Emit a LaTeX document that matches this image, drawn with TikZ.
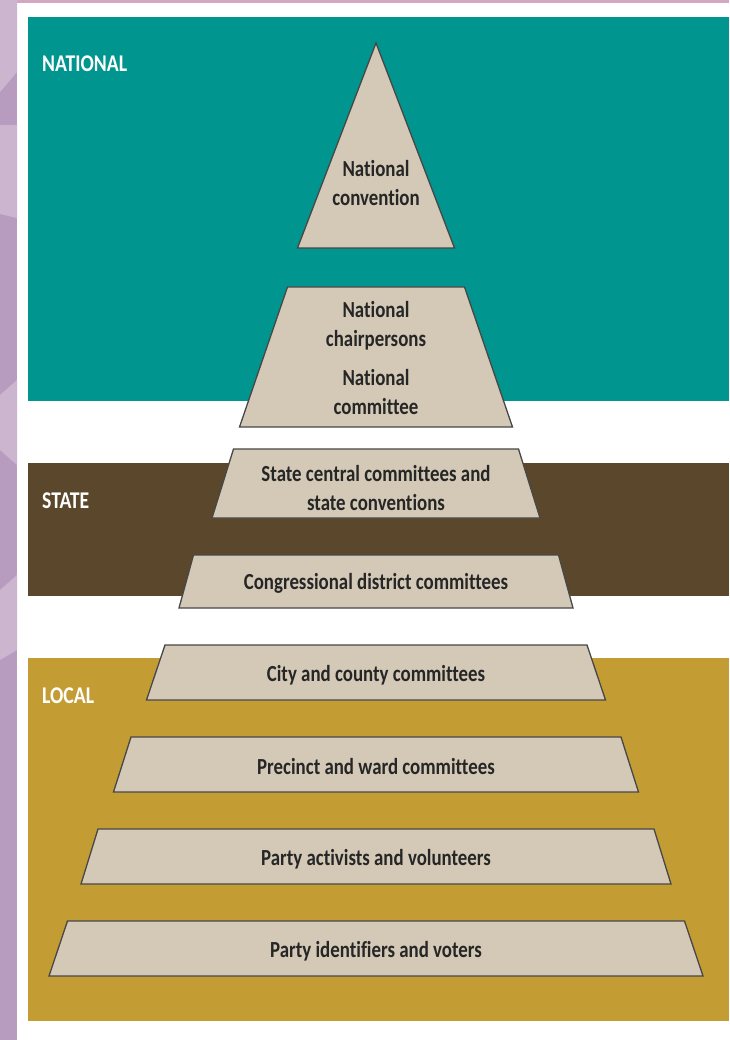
\documentclass[tikz,border=0pt]{standalone}
\usepackage{fontspec}
\setmainfont[FakeStretch=0.82, Ligatures=NoCommon]{Carlito}
\definecolor{natteal}{HTML}{00958F}
\definecolor{statebrown}{HTML}{5B472B}
\definecolor{localgold}{HTML}{C39D33}
\definecolor{tierfill}{HTML}{D3C9B6}
\definecolor{lilac}{HTML}{B89CC0}
\definecolor{lilaclight}{HTML}{CBB5CF}
\definecolor{pinkline}{HTML}{D4A6C3}

\begin{document}
\begin{tikzpicture}[x=1pt, y=-1pt,
  tier/.style={fill=tierfill, draw=black!72, line width=1.3pt},
  level/.style={font=\fontsize{24}{26}\selectfont\bfseries, text=white, anchor=base west, inner sep=0pt},
  tiertext/.style={font=\fontsize{23}{29}\selectfont\bfseries, text=black!85, align=center, inner sep=0pt}]
  \useasboundingbox (0,0) rectangle (729,1040);
  \fill[white] (0,0) rectangle (729,1040);

  % side and top strips
  \fill[lilac] (0,0) rectangle (17,1040);
  \fill[lilaclight] (0,0) -- (17,0) -- (17,72) -- (0,92) -- cycle;
  \fill[lilaclight] (0,125) -- (17,125) -- (17,218) -- (0,214) -- cycle;
  \fill[lilaclight] (0,395) -- (17,380) -- (17,465) -- (0,450) -- cycle;
  \fill[lilaclight] (0,590) -- (17,575) -- (17,650) -- (0,660) -- cycle;
  \fill[pinkline] (17,0) rectangle (729,3);

  % bands
  \fill[natteal] (28,17) rectangle (729,401);
  \fill[statebrown] (28,463) rectangle (729,596);
  \fill[localgold] (28,658) rectangle (729,1021);

  \node[level] (national) at (42,72) {NATIONAL};
  \node[level] (state) at (42,508) {STATE};
  \node[level] (local) at (42,703) {LOCAL};

  % pyramid tiers
  \draw[tier] (376,43) -- (454.5,248) -- (297.5,248) -- cycle;
  \draw[tier] (287.5,287) -- (464.5,287) -- (512.5,427) -- (239.5,427) -- cycle;
  \draw[tier] (233.5,449) -- (518.5,449) -- (540,518) -- (212,518) -- cycle;
  \draw[tier] (193.5,555) -- (558.5,555) -- (573,608) -- (179,608) -- cycle;
  \draw[tier] (165,645) -- (587,645) -- (605.5,700) -- (146.5,700) -- cycle;
  \draw[tier] (131,737) -- (621,737) -- (638.5,792) -- (113.5,792) -- cycle;
  \draw[tier] (98,829) -- (654,829) -- (671,884) -- (81,884) -- cycle;
  \draw[tier] (67.5,921) -- (684.5,921) -- (703,976) -- (49,976) -- cycle;

  \node[tiertext] (convention) at (376,183) {National\\convention};
  \node[tiertext] (chairs) at (376,326) {National\\chairpersons};
  \node[tiertext] (natcommittee) at (376,392) {National\\committee};
  \node[tiertext] (statecentral) at (376,488) {State central committees and\\state conventions};
  \node[tiertext] (congressional) at (376,583) {Congressional district committees};
  \node[tiertext] (citycounty) at (376,675) {City and county committees};
  \node[tiertext] (precinct) at (376,767) {Precinct and ward committees};
  \node[tiertext] (activists) at (376,859) {Party activists and volunteers};
  \node[tiertext] (voters) at (376,951) {Party identifiers and voters};
\end{tikzpicture}
\end{document}
